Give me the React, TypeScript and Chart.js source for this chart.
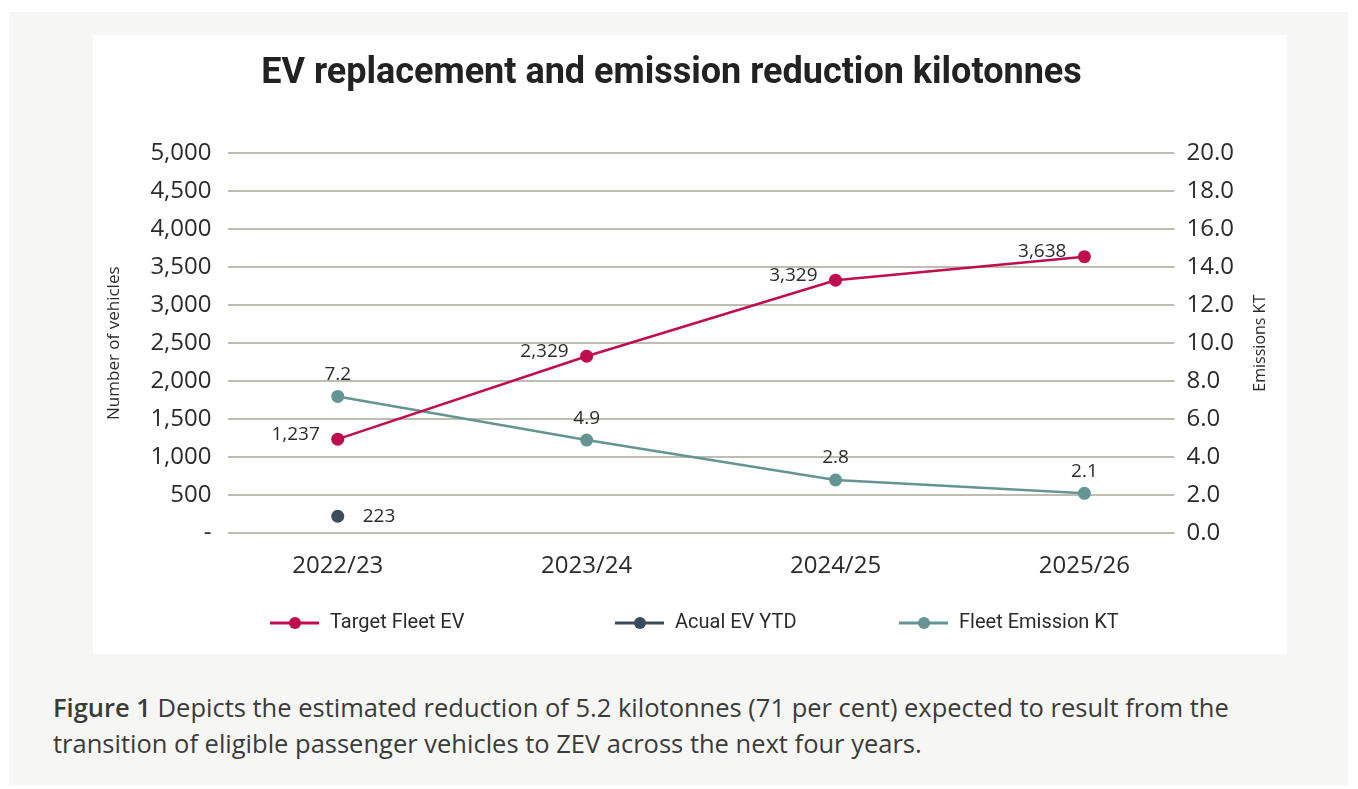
import React, { useEffect, useRef } from "react";
import { Chart, registerables } from "chart.js";

Chart.register(...registerables);

const CATEGORIES = ["2022/23", "2023/24", "2024/25", "2025/26"];
const TARGET_FLEET_EV = [1237, 2329, 3329, 3638];
const ACTUAL_EV_YTD = [223];
const FLEET_EMISSION_KT = [7.2, 4.9, 2.8, 2.1];
const LEFT_TICKS = [0, 500, 1000, 1500, 2000, 2500, 3000, 3500, 4000, 4500, 5000];
const RIGHT_TICKS = [0, 2, 4, 6, 8, 10, 12, 14, 16, 18, 20];
const SERIES_NAMES = ["Target Fleet EV", "Acual EV YTD", "Fleet Emission KT"];
const SERIES_COLORS = ["#c00d4e", "#3c4b5c", "#659592"];
const LEFT_AXIS_TITLE = "Number of vehicles";
const RIGHT_AXIS_TITLE = "Emissions KT";

const TEXT_COLOR = "#2b2b2b";
const GRID_COLOR = "#bdbdb2";
const TICK_FONT = "'Open Sans', sans-serif";

const pointLabelsPlugin = {
  id: "pointLabels",
  afterDatasetsDraw(chart: any) {
    const ctx = chart.ctx;
    ctx.save();
    ctx.font = `19px ${TICK_FONT}`;
    ctx.fillStyle = TEXT_COLOR;
    chart.data.datasets.forEach((ds: any, di: number) => {
      const meta = chart.getDatasetMeta(di);
      const pos = ds.labelPos;
      meta.data.forEach((el: any, i: number) => {
        const raw = ds.data[i];
        if (!raw) return;
        const txt = ds.labelFormat(raw.y);
        ctx.textBaseline = "middle";
        if (pos === "left") {
          ctx.textAlign = "right";
          ctx.fillText(txt, el.x - 18, el.y - 5);
        } else if (pos === "right") {
          ctx.textAlign = "left";
          ctx.fillText(txt, el.x + 25, el.y);
        } else {
          ctx.textAlign = "center";
          ctx.fillText(txt, el.x, el.y - 22);
        }
      });
    });
    ctx.restore();
  },
};

const rightTitlePlugin = {
  id: "rightTitle",
  afterDraw(chart: any) {
    const ctx = chart.ctx;
    const ca = chart.chartArea;
    ctx.save();
    ctx.translate(chart.width - 27, (ca.top + ca.bottom) / 2);
    ctx.rotate(-Math.PI / 2);
    ctx.font = `16px ${TICK_FONT}`;
    ctx.fillStyle = TEXT_COLOR;
    ctx.textAlign = "center";
    ctx.textBaseline = "middle";
    ctx.fillText(RIGHT_AXIS_TITLE, 0, 0);
    ctx.restore();
  },
};

const LEGEND_X = [177, 522, 806];
const LEGEND_Y = 588;

const customLegendPlugin = {
  id: "customLegend",
  afterDraw(chart: any) {
    const ctx = chart.ctx;
    ctx.save();
    chart.data.datasets.forEach((ds: any, i: number) => {
      const x0 = LEGEND_X[i];
      const y = LEGEND_Y;
      ctx.strokeStyle = ds.borderColor;
      ctx.lineWidth = 3;
      ctx.beginPath();
      ctx.moveTo(x0, y);
      ctx.lineTo(x0 + 49, y);
      ctx.stroke();
      ctx.fillStyle = ds.borderColor;
      ctx.beginPath();
      ctx.arc(x0 + 25, y, 6, 0, Math.PI * 2);
      ctx.fill();
      ctx.fillStyle = TEXT_COLOR;
      ctx.font = "20px Roboto, sans-serif";
      ctx.textAlign = "left";
      ctx.textBaseline = "middle";
      ctx.fillText(ds.label, x0 + 60, y);
    });
    ctx.restore();
  },
};

function App() {
  const canvasRef = useRef<HTMLCanvasElement | null>(null);

  useEffect(() => {
    if (!canvasRef.current) return;
    const mk = (arr: number[]) => arr.map((v, i) => ({ x: i, y: v }));
    const chart = new Chart(canvasRef.current, {
      type: "line",
      data: {
        datasets: [
          {
            label: SERIES_NAMES[0],
            data: mk(TARGET_FLEET_EV),
            yAxisID: "y",
            borderColor: SERIES_COLORS[0],
            backgroundColor: SERIES_COLORS[0],
            borderWidth: 2.5,
            pointRadius: 6.5,
            pointHoverRadius: 6.5,
            pointBorderWidth: 0,
            labelPos: "left",
            labelFormat: (v: number) => v.toLocaleString("en-US"),
          } as any,
          {
            label: SERIES_NAMES[1],
            data: mk(ACTUAL_EV_YTD),
            yAxisID: "y",
            borderColor: SERIES_COLORS[1],
            backgroundColor: SERIES_COLORS[1],
            borderWidth: 2.5,
            showLine: false,
            pointRadius: 6.5,
            pointBorderWidth: 0,
            labelPos: "right",
            labelFormat: (v: number) => v.toLocaleString("en-US"),
          } as any,
          {
            label: SERIES_NAMES[2],
            data: mk(FLEET_EMISSION_KT),
            yAxisID: "y2",
            borderColor: SERIES_COLORS[2],
            backgroundColor: SERIES_COLORS[2],
            borderWidth: 2.5,
            pointRadius: 6.5,
            pointBorderWidth: 0,
            labelPos: "above",
            labelFormat: (v: number) => v.toFixed(1),
          } as any,
        ],
      },
      options: {
        animation: false,
        responsive: true,
        maintainAspectRatio: false,
        layout: { padding: { left: 0, right: 37, top: 0, bottom: 54 } },
        plugins: {
          legend: { display: false },
          tooltip: { enabled: false },
          title: {
            display: true,
            text: "EV replacement and emission reduction kilotonnes",
            color: "#222222",
            font: { family: "Roboto, sans-serif", size: 36, weight: "bold" },
            padding: { top: 17, bottom: 58 },
          },
        },
        scales: {
          x: {
            type: "linear",
            min: -0.443,
            max: 3.362,
            afterBuildTicks: (scale: any) => {
              scale.ticks = CATEGORIES.map((_, i) => ({ value: i }));
            },
            ticks: {
              autoSkip: false,
              maxRotation: 0,
              padding: 19,
              color: TEXT_COLOR,
              font: { family: TICK_FONT, size: 24 },
              callback: (v: any) => CATEGORIES[v as number],
            },
            grid: { display: false, drawTicks: false },
            border: { display: false },
          },
          y: {
            position: "left",
            min: 0,
            max: 5000,
            afterBuildTicks: (scale: any) => {
              scale.ticks = LEFT_TICKS.map((v) => ({ value: v }));
            },
            ticks: {
              padding: 16,
              color: TEXT_COLOR,
              font: { family: TICK_FONT, size: 24 },
              callback: (v: any) => (v === 0 ? "-" : Number(v).toLocaleString("en-US")),
            },
            grid: { color: GRID_COLOR, lineWidth: 2, drawTicks: false },
            border: { display: false },
            title: {
              display: true,
              text: LEFT_AXIS_TITLE,
              color: TEXT_COLOR,
              font: { family: TICK_FONT, size: 17 },
              padding: { top: 11, bottom: 10 },
            },
          },
          y2: {
            position: "right",
            min: 0,
            max: 20,
            afterBuildTicks: (scale: any) => {
              scale.ticks = RIGHT_TICKS.map((v) => ({ value: v }));
            },
            afterFit: (scale: any) => {
              scale.width += 4;
            },
            ticks: {
              padding: 12,
              color: TEXT_COLOR,
              font: { family: TICK_FONT, size: 24 },
              callback: (v: any) => Number(v).toFixed(1),
            },
            grid: { display: false, drawTicks: false },
            border: { display: false },
          },
        },
      } as any,
      plugins: [pointLabelsPlugin, customLegendPlugin, rightTitlePlugin],
    });
    return () => chart.destroy();
  }, []);

  return (
    <div
      style={{
        position: "absolute",
        left: 9,
        top: 12,
        width: 1339,
        height: 773,
        background: "#f6f6f4",
      }}
    >
      <div
        style={{
          position: "absolute",
          left: 84,
          top: 23,
          width: 1194,
          height: 619,
          background: "#ffffff",
        }}
      >
        <canvas ref={canvasRef} />
      </div>
      <div
        style={{
          position: "absolute",
          left: 44,
          top: 677,
          width: 1290,
          fontFamily: "'Open Sans', sans-serif",
          fontSize: 25.5,
          lineHeight: "36px",
          color: "#3b3b3b",
          whiteSpace: "nowrap",
        }}
      >
        <span style={{ fontWeight: 600 }}>Figure 1</span> Depicts the estimated reduction of 5.2 kilotonnes (71 per cent) expected to result from the
        <br />
        transition of eligible passenger vehicles to ZEV across the next four years.
      </div>
    </div>
  );
}

export default App;
